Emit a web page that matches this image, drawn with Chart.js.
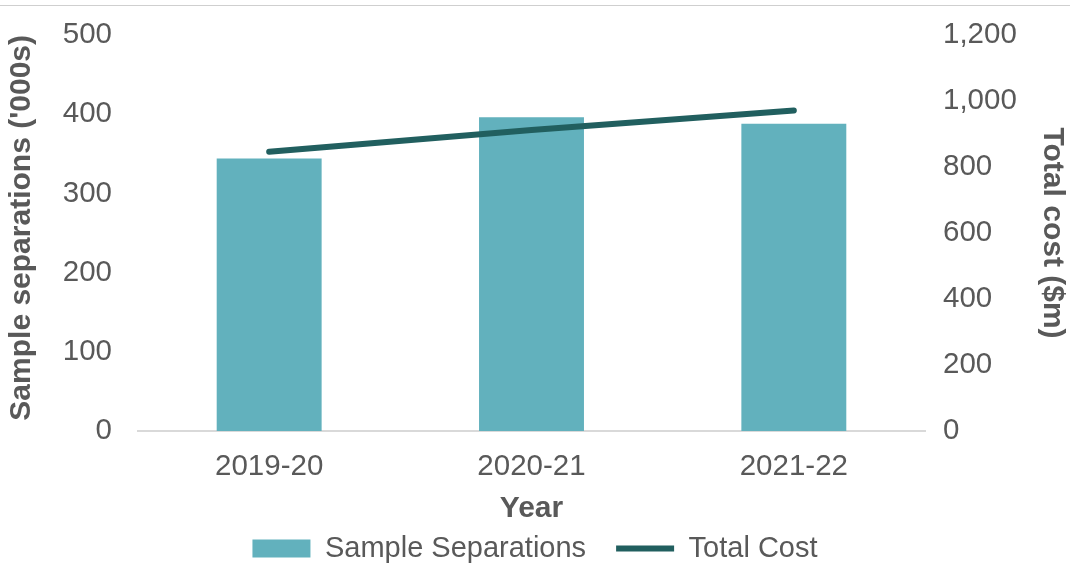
<!DOCTYPE html>
<html>
<head>
<meta charset="utf-8">
<script src="https://cdn.jsdelivr.net/npm/chart.js@4"></script>
<style>
  body { margin: 0; background: #fff; }
  #wrap { position: relative; width: 1070px; height: 565px; }
  #topline { position: absolute; left: 0; top: 5px; width: 1070px; height: 1px; background: #cfcfcf; }
</style>
</head>
<body>
<div id="wrap">
  <div id="topline"></div>
  <canvas id="chart" width="1070" height="565"></canvas>
</div>
<script>
var years = ['2019-20', '2020-21', '2021-22'];
var separations = [344, 396, 388];
var totalCost = [846, 912, 971];

var texto = '#595959';
var corBarra = '#62B1BD';
var corLinha = '#215F5F';
var fonte = 'Liberation Sans, Arial, sans-serif';

new Chart(document.getElementById('chart'), {
  data: {
    labels: years,
    datasets: [
      {
        type: 'line',
        label: 'Total Cost',
        data: totalCost,
        yAxisID: 'y1',
        borderColor: corLinha,
        backgroundColor: corLinha,
        borderWidth: 6,
        borderCapStyle: 'round',
        pointRadius: 0,
        pointStyle: 'line',
        tension: 0,
        order: 0
      },
      {
        type: 'bar',
        label: 'Sample Separations',
        data: separations,
        yAxisID: 'y',
        backgroundColor: corBarra,
        pointStyle: 'rect',
        categoryPercentage: 1,
        barPercentage: 0.4,
        order: 1
      }
    ]
  },
  options: {
    responsive: false,
    animation: false,
    layout: { padding: { top: 35, bottom: -8 } },
    plugins: {
      tooltip: { enabled: false },
      legend: {
        position: 'bottom',
        reverse: true,
        labels: {
          usePointStyle: true,
          pointStyleWidth: 58,
          boxHeight: 18,
          padding: 30,
          color: texto,
          font: { family: fonte, size: 29 }
        }
      }
    },
    scales: {
      x: {
        grid: { display: false, drawTicks: false },
        border: { color: '#D9D9D9', width: 2 },
        ticks: { color: texto, font: { family: fonte, size: 29.5 }, padding: 18 },
        title: { display: true, text: 'Year', color: texto, font: { family: fonte, size: 30, weight: 'bold' }, padding: { top: 0, bottom: -23 } },
        afterFit: function (s) { s.height = 73; s.paddingLeft = 0; s.paddingRight = 0; }
      },
      y: {
        position: 'left',
        min: 0,
        max: 500,
        grid: { display: false, drawTicks: false },
        border: { display: false },
        ticks: { stepSize: 100, color: texto, font: { family: fonte, size: 29.5 }, padding: 26 },
        title: { display: true, align: 'end', text: "Sample separations ('000s)", color: texto, font: { family: fonte, size: 30, weight: 'bold' }, padding: { top: 4, bottom: 0 } },
        afterFit: function (s) { s.width = 138; s.paddingTop = 0; s.paddingBottom = 0; }
      },
      y1: {
        position: 'right',
        min: 0,
        max: 1200,
        grid: { display: false, drawTicks: false },
        border: { display: false },
        ticks: { stepSize: 200, color: texto, font: { family: fonte, size: 29.5 }, padding: 18 },
        title: { display: true, text: 'Total cost ($m)', color: texto, font: { family: fonte, size: 30, weight: 'bold' }, padding: { top: 0, bottom: 0 } },
        afterFit: function (s) { s.width = 145; s.paddingTop = 0; s.paddingBottom = 0; }
      }
    }
  }
});
</script>
</body>
</html>
